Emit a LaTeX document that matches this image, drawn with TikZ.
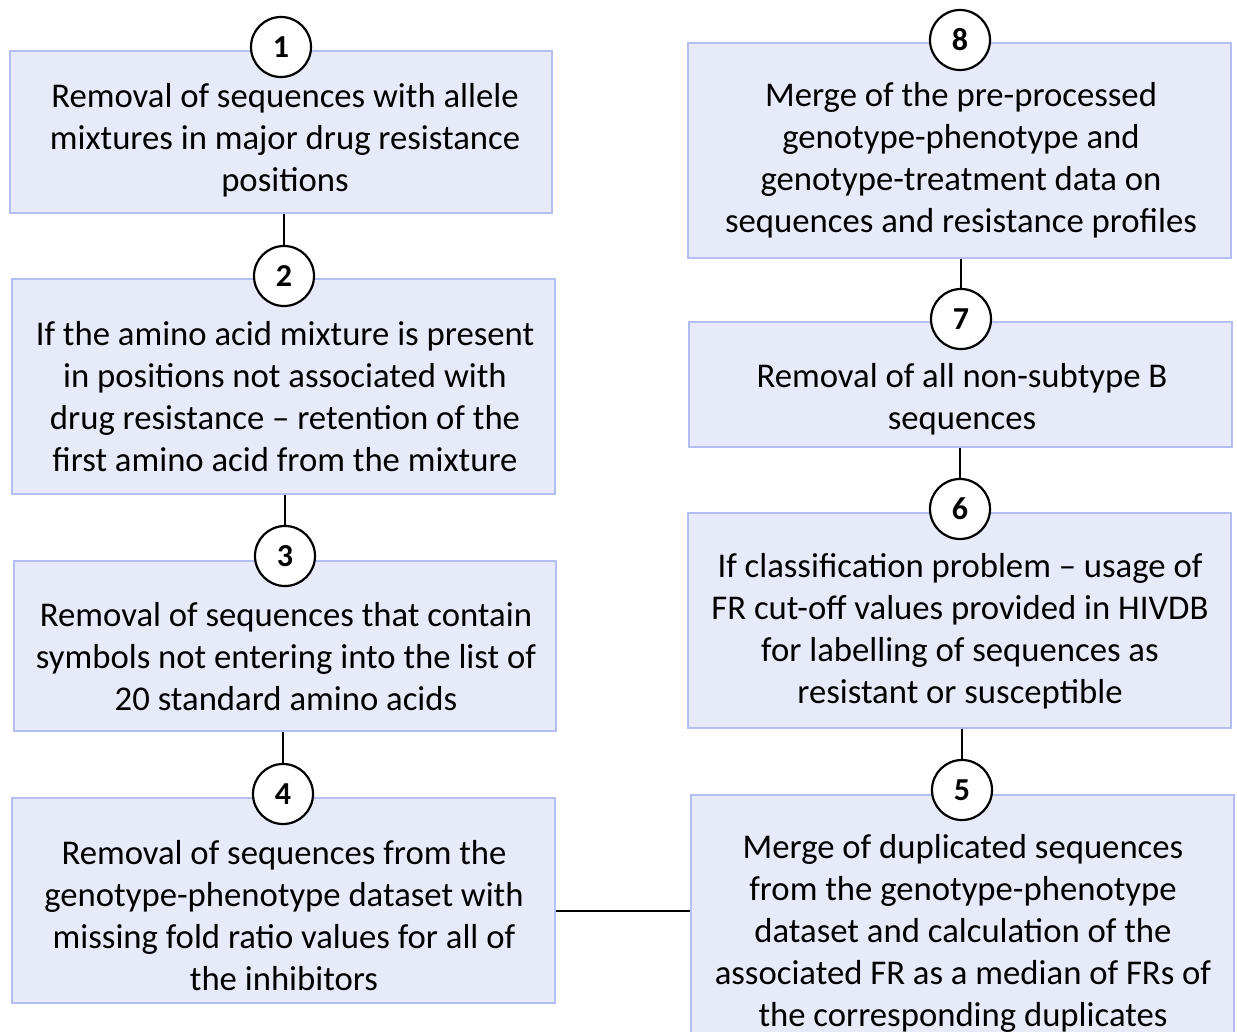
\documentclass[tikz,border=0pt]{standalone}
\usepackage{fontspec}
\setmainfont{Carlito}
\usetikzlibrary{calc}
\definecolor{boxfill}{RGB}{230,234,249}
\definecolor{boxline}{RGB}{180,190,242}
\begin{document}
\begin{tikzpicture}[x=1pt,y=-1pt,
  stepbox/.style={draw=boxline,fill=boxfill,line width=2pt,rectangle,inner sep=0pt},
  txt/.style={align=center,font=\fontsize{34.7}{42}\selectfont,inner sep=0pt},
  num/.style={circle,draw=black,fill=white,line width=2.2pt,minimum size=60pt,inner sep=0pt,font=\fontsize{32}{36}\selectfont\bfseries},
  conn/.style={draw=black,line width=2pt}]
\useasboundingbox (0,0) rectangle (1237,1032);
% left column boxes
\node[stepbox,minimum width=542pt,minimum height=162pt] (b1) at (281,132) {};
\node[stepbox,minimum width=543pt,minimum height=215pt] (b2) at (283.5,386.5) {};
\node[stepbox,minimum width=542pt,minimum height=170pt] (b3) at (285,646) {};
\node[stepbox,minimum width=543pt,minimum height=205pt] (b4) at (283.5,900.5) {};
% right column boxes
\node[stepbox,minimum width=543pt,minimum height=215pt] (b8) at (959.5,150.5) {};
\node[stepbox,minimum width=543pt,minimum height=125pt] (b7) at (960.5,384.5) {};
\node[stepbox,minimum width=543pt,minimum height=215pt] (b6) at (959.5,620.5) {};
\node[stepbox,minimum width=543pt,minimum height=250pt] (b5) at (962.5,920) {};
% numbered circles
\node[num] (c1) at (281,47) {1};
\node[num] (c2) at (284,276) {2};
\node[num] (c3) at (285,556) {3};
\node[num] (c4) at (283,794) {4};
\node[num] (c8) at (960,40) {8};
\node[num] (c7) at (961,319) {7};
\node[num] (c6) at (960,509) {6};
\node[num] (c5) at (962,790) {5};
% connectors
\draw[conn] (c2.north |- b1.south) -- (c2.north);
\draw[conn] (c3.north |- b2.south) -- (c3.north);
\draw[conn] (c4.north |- b3.south) -- (c4.north);
\coordinate (j4) at ($(b4.east)+(0,10.5)$);
\draw[conn] (j4) -- (j4 -| b5.west);
\draw[conn] (c5.north) -- (c5.north |- b6.south);
\draw[conn] (c6.north) -- (c6.north |- b7.south);
\draw[conn] (c7.north) -- (c7.north |- b8.south);
% texts
\node[txt] (t1) at (285,140.5) {Removal of sequences with allele\\mixtures in major drug resistance\\positions};
\node[txt] (t2) at (285,397) {If the amino acid mixture is present\\in positions not associated with\\drug resistance -- retention of the\\first amino acid from the mixture};
\node[txt] (t3) at (286,657) {Removal of sequences that contain\\symbols not entering into the list of\\20 standard amino acids};
\node[txt] (t4) at (284,915.5) {Removal of sequences from the\\genotype-phenotype dataset with\\missing fold ratio values for all of\\the inhibitors};
\node[txt] (t8) at (961,160.5) {Merge of the pre-processed\\genotype-phenotype and\\genotype-treatment data on\\sequences and resistance profiles};
\node[txt] (t7) at (962,399) {Removal of all non-subtype B\\sequences};
\node[txt] (t6) at (960,631) {If classification problem -- usage of\\FR cut-off values provided in HIVDB\\for labelling of sequences as\\resistant or susceptible};
\node[txt] (t5) at (963,933.5) {Merge of duplicated sequences\\from the genotype-phenotype\\dataset and calculation of the\\associated FR as a median of FRs of\\the corresponding duplicates};
\end{tikzpicture}
\end{document}
